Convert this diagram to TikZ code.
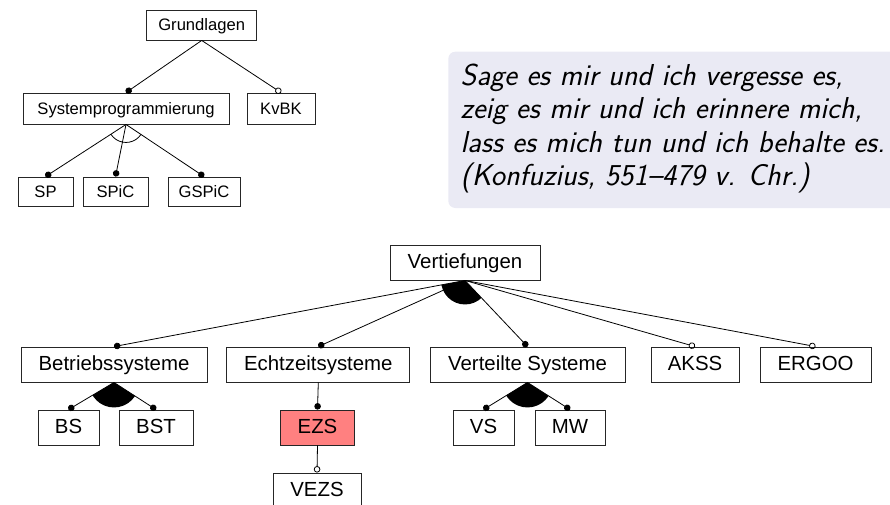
\documentclass[tikz,border=0pt]{standalone}
\usepackage{fontspec}
\newfontfamily\arialf{Liberation Sans}
\usetikzlibrary{arrows.meta}
\definecolor{quotebg}{RGB}{234,234,244}
\definecolor{ezsred}{RGB}{255,128,128}
\begin{document}
\begin{tikzpicture}[x=1pt,y=-1pt,
  feat/.style={draw=black!85, line width=0.9pt, inner sep=0pt, minimum height=35pt,
    text height=16.7pt, text depth=4pt, font=\arialf\fontsize{20.4}{24}\selectfont},
  featS/.style={draw=black!85, line width=0.9pt, inner sep=0pt, minimum height=30pt,
    text height=15.2pt, text depth=3.5pt, font=\arialf\fontsize{16.6}{20}\selectfont},
  conn/.style={line width=0.8pt},
  mand/.style={conn, -{Circle[length=6.5pt]}},
  opt/.style={conn, -{Circle[open,length=6.5pt]}},
  quotetext/.style={anchor=base west, inner sep=0pt, font=\sffamily\itshape\fontsize{30.3}{33}\selectfont},
]
\useasboundingbox (0,0) rectangle (890,504);

% quote
\fill[quotebg, rounded corners=7pt] (448.3,51.7) rectangle (905,208);
\node[quotetext] (q1) at (460.5,85) {Sage es mir und ich vergesse es,};
\node[quotetext] (q2) at (460.5,118.5) {zeig es mir und ich erinnere mich,};
\node[quotetext] (q3) at (460.5,152) {lass es mich tun und ich behalte es.};
\node[quotetext] (q4) at (460.5,185.5) {(Konfuzius, 551--479 v. Chr.)};

% top diagram
\node[featS, minimum width=110pt] (g) at (201.7,25) {Grundlagen};
\node[featS, minimum width=206pt, minimum height=31pt] (sysp) at (126,108.5) {Systemprogrammierung};
\node[featS, minimum width=68pt, minimum height=31pt] (kvbk) at (281,108.5) {KvBK};
\node[featS, minimum width=55pt, minimum height=29pt] (sp) at (45.5,191.5) {SP};
\node[featS, minimum width=65pt, minimum height=29pt] (spic) at (115.5,191.5) {SPiC};
\node[featS, minimum width=72pt, minimum height=29pt] (gspic) at (204,191.5) {GSPiC};

\draw[mand] (g.south) -- (sysp.north);
\draw[opt] (g.south) -- (kvbk.north);
\draw[mand] (sysp.south) -- (sp.north);
\draw[mand] (sysp.south) -- (spic.north);
\draw[mand] (sysp.south) -- (gspic.north);
\begin{scope}
  \clip (sysp.south) -- (sp.north) -- (gspic.north) -- cycle;
  \draw[conn] (sysp.south) circle[radius=18pt];
\end{scope}

% bottom diagram
\node[feat, minimum width=150pt] (v) at (465,262.5) {Vertiefungen};
\node[feat, minimum width=186pt] (bsys) at (114,364.5) {Betriebssysteme};
\node[feat, minimum width=183pt] (esys) at (318.3,364.5) {Echtzeitsysteme};
\node[feat, minimum width=195pt] (vsys) at (527.5,364.5) {Verteilte Systeme};
\node[feat, minimum width=88pt] (akss) at (695,364.5) {AKSS};
\node[feat, minimum width=111pt] (ergoo) at (815.5,364.5) {ERGOO};
\node[feat, minimum width=61pt] (bs) at (68.5,427.5) {BS};
\node[feat, minimum width=74pt] (bst) at (156,427.5) {BST};
\node[feat, minimum width=74pt, fill=ezsred] (ezs) at (317.5,427.5) {EZS};
\node[feat, minimum width=61pt] (vs) at (483.5,427.5) {VS};
\node[feat, minimum width=70pt] (mw) at (570,427.5) {MW};
\node[feat, minimum width=88pt] (vezs) at (317,490.5) {VEZS};

\draw[mand] (v.south) -- (bsys.north);
\draw[mand] (v.south) -- (esys.north);
\draw[mand] (v.south) -- (vsys.north);
\draw[opt] (v.south) -- (akss.north);
\draw[opt] (v.south) -- (ergoo.north);
\begin{scope}
  \clip (v.south) -- (bsys.north) -- (vsys.north) -- cycle;
  \fill (v.south) circle[radius=24pt];
\end{scope}

\draw[mand] (bsys.south) -- (bs.north);
\draw[mand] (bsys.south) -- (bst.north);
\begin{scope}
  \clip (bsys.south) -- (bs.north) -- (bst.north) -- cycle;
  \fill (bsys.south) circle[radius=25pt];
\end{scope}

\draw[mand] (esys.south) -- (ezs.north);
\draw[opt] (ezs.south) -- (vezs.north);

\draw[mand] (vsys.south) -- (vs.north);
\draw[mand] (vsys.south) -- (mw.north);
\begin{scope}
  \clip (vsys.south) -- (vs.north) -- (mw.north) -- cycle;
  \fill (vsys.south) circle[radius=25pt];
\end{scope}
\end{tikzpicture}
\end{document}
